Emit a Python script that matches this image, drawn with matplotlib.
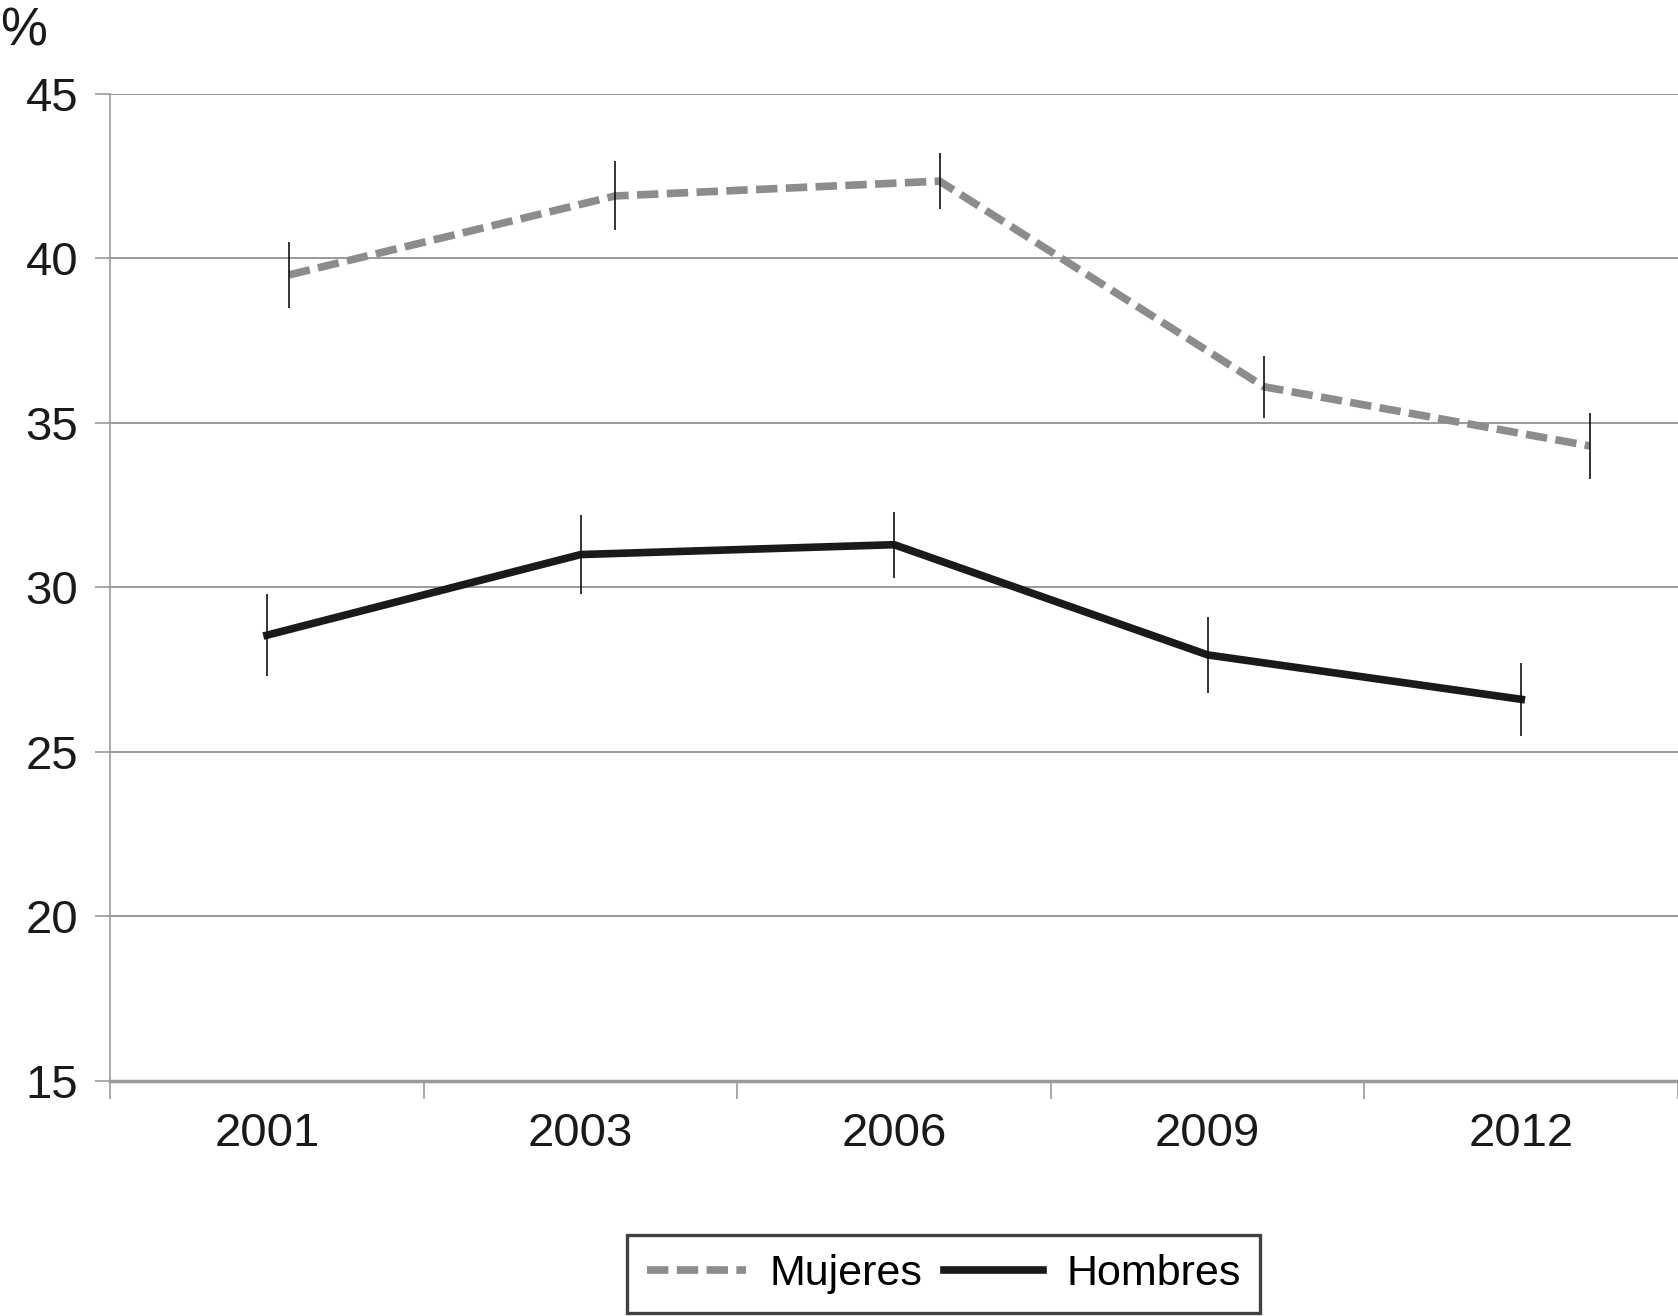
import numpy as np
import matplotlib
matplotlib.use('agg')
import matplotlib.pyplot as plt

years = ['2001', '2003', '2006', '2009', '2012']
mujeres = [39.5, 41.9, 42.35, 36.1, 34.3]
mujeres_err = [1.0, 1.05, 0.85, 0.95, 1.0]
hombres = [28.55, 31.0, 31.3, 27.95, 26.6]
hombres_err = [1.25, 1.2, 1.0, 1.15, 1.1]
# the women's series sits a bit to the right of each category centre
mujeres_shift = [0.07, 0.11, 0.145, 0.18, 0.22]

plt.rcParams['font.family'] = ['Liberation Sans', 'DejaVu Sans']

fig = plt.figure(figsize=(16.78, 13.16), dpi=100)
ax = fig.add_axes([0.0657, 0.1786, 0.9343, 0.75])

x = np.arange(len(years))
xm = x + np.array(mujeres_shift)

ax.plot(xm, mujeres, color='#8c8c8c', lw=5.5, dashes=(2.8, 1.1),
        dash_capstyle='butt', label='Mujeres', zorder=3)
ax.errorbar(xm, mujeres, yerr=mujeres_err, fmt='none', ecolor='#111111',
            elinewidth=1.2, capsize=0, zorder=4)
ax.plot(x, hombres, color='#1a1a1a', lw=5.5, label='Hombres', zorder=3)
ax.errorbar(x, hombres, yerr=hombres_err, fmt='none', ecolor='#111111',
            elinewidth=1.2, capsize=0, zorder=4)

ax.set_ylim(15, 45)
ax.set_xlim(-0.5, len(years) - 0.5)
ax.set_yticks(range(15, 50, 5))
ax.yaxis.grid(True, color='#9a9a9a', lw=1.4)
ax.set_axisbelow(True)

ax.set_xticks(x)
ax.set_xticklabels(years)
ax.set_xticks(np.arange(-0.5, len(years)), minor=True)
ax.tick_params(axis='x', which='major', length=0, pad=22, labelsize=34, labelcolor='#1a1a1a')
ax.tick_params(axis='x', which='minor', length=13, width=1.2, color='#9a9a9a')
ax.tick_params(axis='y', length=11, width=1.2, color='#9a9a9a', pad=12,
               labelsize=34, labelcolor='#1a1a1a')

for side in ['top', 'right']:
    ax.spines[side].set_visible(False)
ax.spines['left'].set_color('#9a9a9a')
ax.spines['left'].set_linewidth(1.2)
ax.spines['bottom'].set_color('#9a9a9a')
ax.spines['bottom'].set_linewidth(2.5)

fig.text(0.0, 0.976, '%', fontsize=38, color='#1a1a1a', va='center', ha='left')

leg = fig.legend(loc='lower center', bbox_to_anchor=(0.5625, 0.002), ncol=2,
                 fontsize=31, frameon=True, fancybox=False, edgecolor='#111111',
                 handlelength=2.3, handletextpad=0.55, columnspacing=0.5,
                 borderpad=0.45, borderaxespad=0)
leg.get_frame().set_linewidth(2.4)

plt.savefig('out.png', dpi=100)
